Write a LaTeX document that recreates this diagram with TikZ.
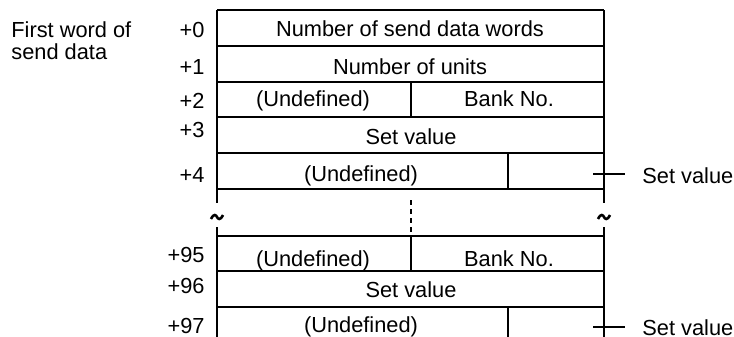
\documentclass[tikz,border=0pt]{standalone}
\usepackage{fontspec}
\setmainfont{Liberation Sans}
\usetikzlibrary{positioning}

\begin{document}
\begin{tikzpicture}[x=0.5pt,y=-0.5pt,
  txt/.style={anchor=base, inner sep=0pt, font=\fontsize{10.9}{13}\selectfont},
  offset/.style={txt, anchor=base east},
  frame/.style={line width=0.6pt}]
\useasboundingbox (0,0) rectangle (734,337);

% Caption
\node[txt, anchor=base west] (cap1) at (11,37) {First word of};
\node[txt, anchor=base west] (cap2) at (11,59) {send data};

% Word offsets
\foreach \n/\y in {0/37,1/74,2/108,3/137,4/182,95/262,96/293,97/333}
  \node[offset] (off\n) at (205,\y) {+\n};

% Row lines
\foreach \y in {10,46,82,117,153,189,236,271,307}
  \draw[frame] (217,\y) -- (604,\y);

% Outer sides, broken at the gap
\foreach \x in {217,604}
  \draw[frame] (\x,10) -- (\x,203) (\x,227) -- (\x,337);

% Dividers
\draw[frame, line width=0.8pt] (411,82) -- (411,117);
\draw[frame, line width=0.8pt] (508,153) -- (508,189);
\draw[frame, line width=0.8pt] (411,236) -- (411,271);
\draw[frame, line width=0.8pt] (508,307) -- (508,337);
\draw[frame, dash pattern=on 2.5pt off 2pt] (411,200) -- (411,236);

% Break marks
\foreach \x in {217,604}
  \draw[line width=1.3pt] (\x-6,219) .. controls (\x-3,213) and (\x-1,215) .. (\x,217)
    .. controls (\x+1,219) and (\x+3,221) .. (\x+6,215);

% Cell texts
\node[txt] (words) at (410,36) {Number of send data words};
\node[txt] (units) at (410,75) {Number of units};
\node[txt] (undef2) at (313,106) {(Undefined)};
\node[txt] (bank2) at (509,106) {Bank No.};
\node[txt] (set3) at (411,144) {Set value};
\node[txt] (undef4) at (361,181) {(Undefined)};
\node[txt] (undef95) at (313,266) {(Undefined)};
\node[txt] (bank95) at (509,266) {Bank No.};
\node[txt] (set96) at (411,297) {Set value};
\node[txt] (undef97) at (361,332) {(Undefined)};

% Set value pointers
\coordinate (tk1) at (593,174);
\coordinate (tk2) at (593,327);
\node[txt, anchor=base west] (sv1) at (642,183) {Set value};
\node[txt, anchor=base west] (sv2) at (642,335) {Set value};
\draw[frame, shorten >=8.5pt] (tk1) -- (tk1 -| sv1.west);
\draw[frame, shorten >=8.5pt] (tk2) -- (tk2 -| sv2.west);

\end{tikzpicture}
\end{document}
